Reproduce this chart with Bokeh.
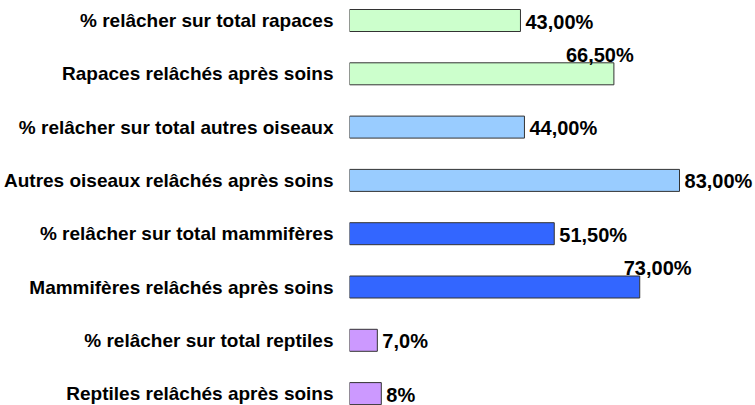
from bokeh.plotting import figure
from bokeh.models import ColumnDataSource, FixedTicker, Range1d
from bokeh.embed import file_html
from bokeh.resources import INLINE
from bokeh.core.properties import value

categories = [
    "% relâcher sur total rapaces",
    "Rapaces relâchés après soins",
    "% relâcher sur total autres oiseaux",
    "Autres oiseaux relâchés après soins",
    "% relâcher sur total mammifères",
    "Mammifères relâchés après soins",
    "% relâcher sur total reptiles",
    "Reptiles relâchés après soins",
]
values = [43.0, 66.5, 44.0, 83.0, 51.5, 73.0, 7.0, 8.0]
labels = ["43,00%", "66,50%", "44,00%", "83,00%", "51,50%", "73,00%", "7,0%", "8%"]
colors = ["#CCFFCC", "#CCFFCC", "#99CCFF", "#99CCFF", "#3366FF", "#3366FF", "#CC99FF", "#CC99FF"]

# label placement tweaks (pixels)
label_dx = [5, -48, 5, 5, 5, -16, 5, 5]
label_dy = [1, -19, 1, 1, 1, -19, 1, 1]

n = len(categories)
ypos = [n - i for i in range(n)]  # top row highest

W, H = 755, 405
left = 349
px_per_row = 53.3
y_end = n + 20 / px_per_row
y_start = y_end - H / px_per_row
frame_w = W - left
x_end = frame_w / 3.976

src = ColumnDataSource(dict(y=ypos, v=values, lab=labels, c=colors, dx=label_dx, dy=label_dy))

p = figure(width=W, height=H, output_backend="svg", toolbar_location=None,
           x_range=Range1d(0, x_end), y_range=Range1d(y_start, y_end),
           min_border_left=left, min_border_right=0, min_border_top=0, min_border_bottom=0)
p.hbar(y="y", right="v", left=0, height=22 / px_per_row, source=src,
       fill_color="c", line_color="#333333", line_width=1)
p.text(x="v", y="y", text="lab", x_offset="dx", y_offset="dy", source=src,
       text_font=value("Liberation Sans"), text_font_style="bold", text_font_size="20px",
       text_baseline="middle", text_align="left", text_color="black")

p.xaxis.visible = False
p.xgrid.visible = False
p.ygrid.visible = False
p.outline_line_color = None
p.background_fill_color = "white"
p.border_fill_color = "white"

ya = p.yaxis[0]
ya.ticker = FixedTicker(ticks=ypos)
ya.major_label_overrides = {y: c for y, c in zip(ypos, categories)}
ya.axis_line_color = None
ya.major_tick_line_color = None
ya.minor_tick_line_color = None
ya.major_tick_out = 0
ya.major_tick_in = 0
ya.major_label_standoff = 16
ya.major_label_text_font = "Liberation Sans"
ya.major_label_text_font_style = "bold"
ya.major_label_text_font_size = "19px"
ya.major_label_text_color = "black"

open("out.html", "w").write(file_html(p, INLINE))
